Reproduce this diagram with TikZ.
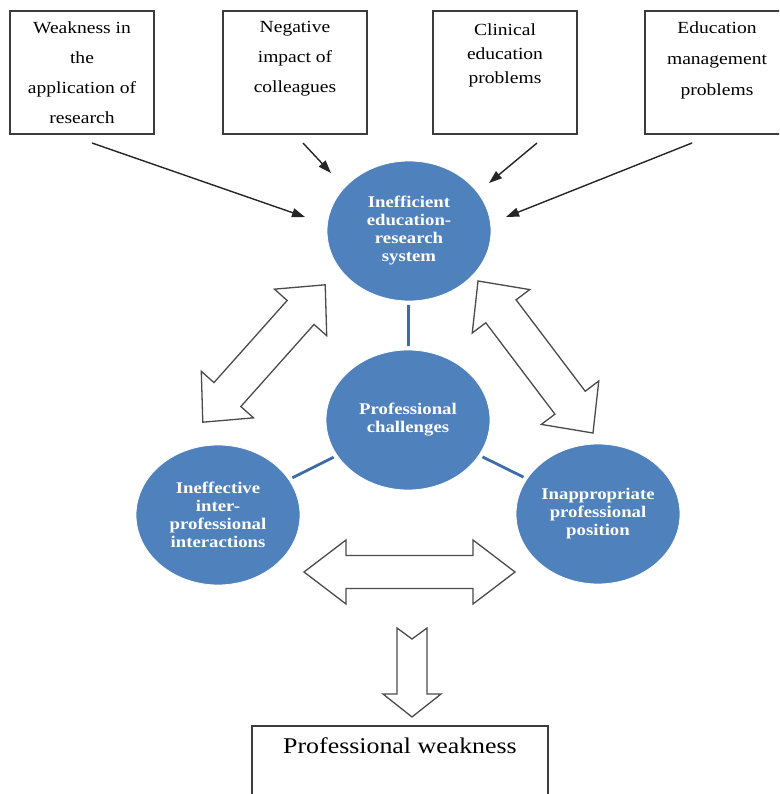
\documentclass[tikz,border=0pt]{standalone}
\usepackage{fontspec}
\setmainfont{Liberation Serif}[FakeStretch=1.15]
\usetikzlibrary{arrows.meta,shapes.geometric,calc}
\definecolor{circblue}{RGB}{79,129,189}
\definecolor{linkblue}{RGB}{62,108,168}
\definecolor{boxline}{RGB}{60,60,60}
\definecolor{arrline}{RGB}{75,75,75}
\newcommand\blockdbl[7]{%
  \begin{scope}[shift={(#1,#2)},rotate=#3]
    \draw[blockarrow] (#4,0) -- ({#4-#7},#5) -- ({#4-#7},#6) -- ({-#4+#7},#6) -- ({-#4+#7},#5) -- (-#4,0)
      -- ({-#4+#7},-#5) -- ({-#4+#7},-#6) -- ({#4-#7},-#6) -- ({#4-#7},-#5) -- cycle;
  \end{scope}}
\tikzset{
  topbox/.style={draw=boxline, line width=1.8pt, minimum width=144pt, minimum height=123pt, inner sep=0pt, outer sep=0pt},
  boxtext/.style={font=\fontsize{17}{30}\selectfont, align=center, inner sep=0pt, anchor=north},
  circ/.style={ellipse, fill=circblue, draw=white, line width=0.8pt, minimum width=164pt, minimum height=140pt,
    inner sep=0pt, outer sep=0pt, text=white, align=center, font=\fontsize{16.3}{18}\selectfont\bfseries},
  link/.style={draw=linkblue, line width=2.8pt, shorten <=4pt, shorten >=4pt},
  thinarrow/.style={draw=black!85, line width=1.4pt, -{Triangle[length=13pt,width=9pt]}},
  blockarrow/.style={draw=arrline, line width=1.3pt, fill=white, line join=miter}
}
\begin{document}
\begin{tikzpicture}[x=1pt,y=-1pt]
\useasboundingbox (0,0) rectangle (779,794);
\clip (0,0) rectangle (779,794);
\fill[white] (0,0) rectangle (779,794);

% top boxes
\node[topbox] (b1) at (82,72.5) {};
\node[topbox] (b2) at (295,72.5) {};
\node[topbox] (b3) at (505,72.5) {};
\node[topbox] (b4) at (717,72.5) {};
\node[boxtext] (t1) at ([yshift=-10.5pt]b1.north) {Weakness in\\the\\application of\\research};
\node[boxtext] (t2) at ([yshift=-10.5pt]b2.north) {Negative\\impact of\\colleagues};
\node[boxtext, font=\fontsize{17}{24}\selectfont] (t3) at ([yshift=-12.5pt]b3.north) {Clinical\\education\\problems};
\node[boxtext, font=\fontsize{17}{31}\selectfont] (t4) at ([yshift=-10.5pt]b4.north) {Education\\management\\problems};

% circles
\node[circ] (top) at (409,231) {Inefficient\\education-\\research\\system};
\node[circ] (ctr) at (408,420) {Professional\\challenges};
\node[circ] (lft) at (218,515) {Ineffective\\inter-\\professional\\interactions};
\node[circ] (rgt) at (598,514) {Inappropriate\\professional\\position};

\draw[link] (top) -- (ctr);
\draw[link] (lft) -- (ctr);
\draw[link] (rgt) -- (ctr);

% thin arrows
\coordinate (s1) at (92,143);  \coordinate (e1) at (305,217);
\coordinate (s2) at (303,143); \coordinate (e2) at (331,173);
\coordinate (s3) at (537,143); \coordinate (e3) at (489,183);
\coordinate (s4) at (692,143); \coordinate (e4) at (506,217);
\draw[thinarrow] (s1) -- (e1);
\draw[thinarrow] (s2) -- (e2);
\draw[thinarrow] (s3) -- (e3);
\draw[thinarrow] (s4) -- (e4);

% block double arrows
\blockdbl{264}{353.5}{48.3}{92}{35}{18}{37}
\blockdbl{535.5}{357}{-52.9}{95.3}{36}{19}{38}
\blockdbl{409.5}{572}{0}{105.5}{32}{16.5}{42}

% down arrow
\draw[blockarrow] (397,628) -- (412,639) -- (427,628) -- (427,694) -- (441,694) -- (412,717) -- (383,694) -- (397,694) -- cycle;

% bottom box
\node[draw=boxline, line width=1.6pt, minimum width=296pt, minimum height=90pt, inner sep=0pt, outer sep=0pt] (pw) at (400,771) {};
\node[font=\fontsize{22.5}{26}\selectfont, inner sep=0pt] (pwt) at (400,746) {Professional weakness};
\end{tikzpicture}
\end{document}
